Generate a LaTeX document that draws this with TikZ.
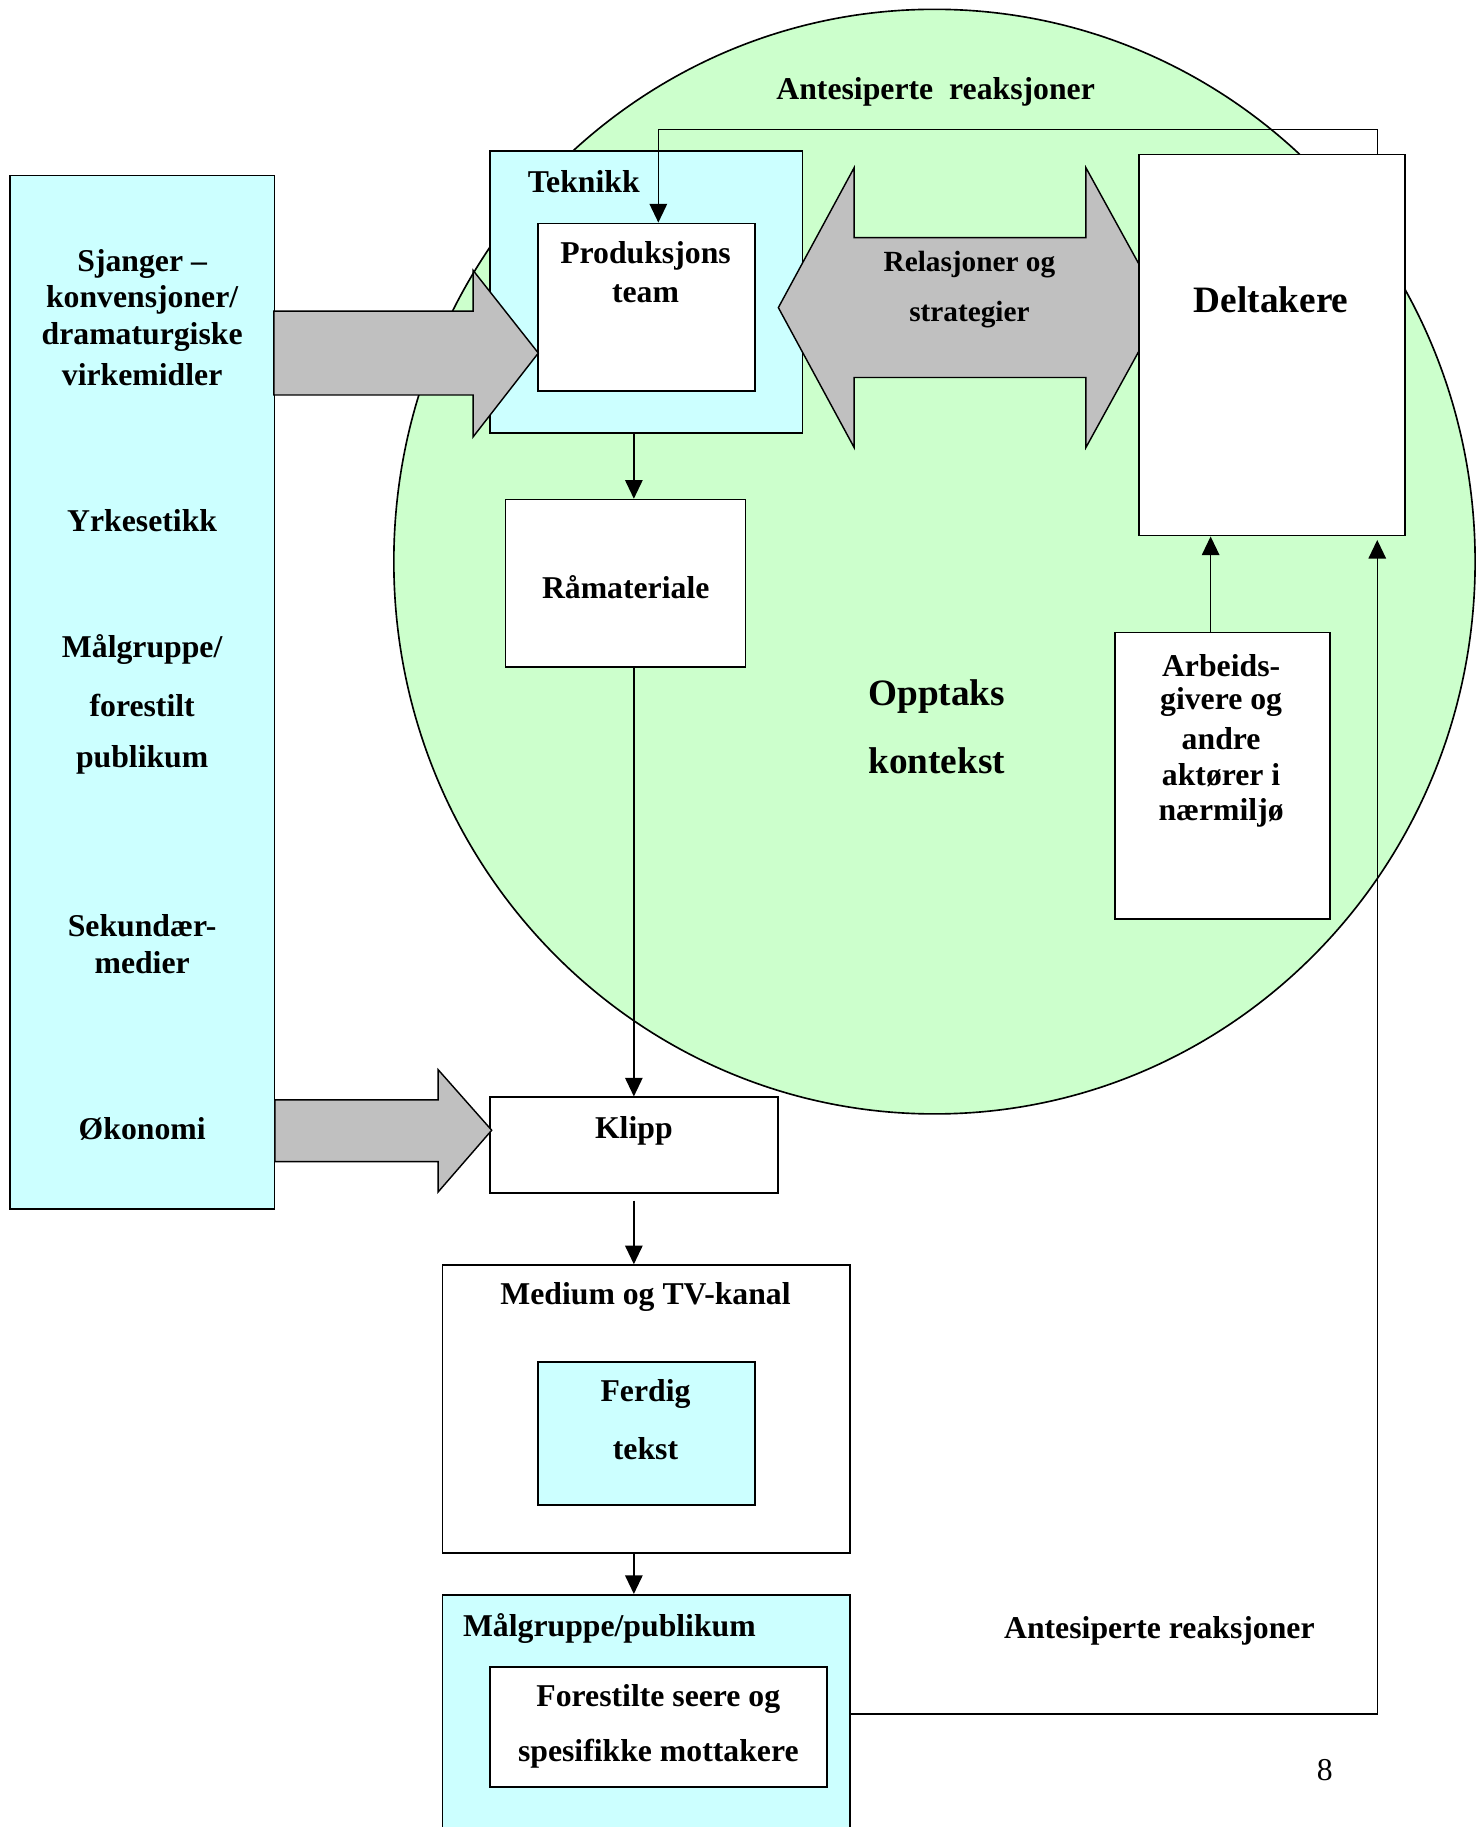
\documentclass[tikz,border=0pt]{standalone}
\usepackage{fontspec}
\setmainfont{Liberation Serif}
\usetikzlibrary{arrows.meta}
\definecolor{cyanbox}{HTML}{CCFFFF}
\definecolor{greenbg}{HTML}{CCFFCC}
\definecolor{grayarrow}{HTML}{C0C0C0}
\tikzset{
  box/.style={draw=black, line width=0.8pt, inner sep=0pt, anchor=north west},
  dim/.style args={#1/#2}{minimum width=#1*0.02cm, minimum height=#2*0.02cm},
  txt/.style={inner sep=0pt, yshift=-0.05cm, font=\bfseries\fontsize{15.5}{18}\selectfont},
  smalltxt/.style={inner sep=0pt, yshift=-0.06cm, font=\bfseries\fontsize{14.3}{17}\selectfont},
  bigtxt/.style={inner sep=0pt, yshift=-0.03cm, font=\bfseries\fontsize{18.2}{21}\selectfont},
  conn/.style={draw=black, line width=0.7pt},
  arr/.style={conn, -{Triangle[length=0.32cm, width=0.3cm]}},
  blockarrow/.style={draw=black, line width=0.7pt, fill=grayarrow, line join=miter},
}
\begin{document}
\begin{tikzpicture}[x=0.02cm, y=-0.02cm]
\clip (0,0) rectangle (1272,1568);
\fill[white] (0,0) rectangle (1272,1568);

% background context circle
\draw[line width=0.8pt, fill=greenbg] (802,482) ellipse [x radius=464, y radius=474];

% left column
\node[box, fill=cyanbox, dim=227/887] (left) at (8,150) {};
\node[txt] (l1) at (122,224) {Sjanger –};
\node[txt] (l2) at (122,255) {konvensjoner/};
\node[txt] (l3) at (122,287) {dramaturgiske};
\node[txt] (l4) at (122,319) {virkemidler};
\node[txt] (l5) at (122,444) {Yrkesetikk};
\node[txt] (l6) at (122,555) {Målgruppe/};
\node[txt] (l7) at (122,603) {forestilt};
\node[txt] (l8) at (122,650) {publikum};
\node[txt] (l9) at (122,792) {Sekundær-};
\node[txt] (l10) at (122,824) {medier};
\node[txt] (l11) at (122,966) {Økonomi};

% Teknikk box
\node[box, fill=cyanbox, dim=268/242] (tek) at (420,129) {};
\node[txt] (tekl) at (501,153) {Teknikk};
\node[box, fill=white, dim=186/144] (prod) at (461,191) {};
\node[txt] (prodl1) at (554,217) {Produksjons};
\node[txt] (prodl2) at (554,250) {team};

% upper block arrow
\draw[blockarrow] (235,267) -- (406,267) -- (406,232) -- (462,303) -- (406,375) -- (406,339) -- (235,339) -- cycle;

% double block arrow
\draw[blockarrow] (668,264) -- (733,144) -- (733,204) -- (932,204) -- (932,144) -- (998,264)
  -- (932,384) -- (932,324) -- (733,324) -- (733,384) -- cycle;
\node[smalltxt] (rel1) at (832,224) {Relasjoner og};
\node[smalltxt] (rel2) at (832,267) {strategier};

% Deltakere
\node[box, fill=white, dim=228/327] (delt) at (977,132) {};
\node[bigtxt] (deltl) at (1091,256) {Deltakere};

% top label
\node[txt] (ant1) at (803,76) {Antesiperte~ reaksjoner};

% Råmateriale
\node[box, fill=white, dim=206/144] (ramat) at (433,428) {};
\node[txt] (ramatl) at (537,501) {Råmateriale};

% Opptaks kontekst
\node[bigtxt] (opp1) at (804,596) {Opptaks};
\node[bigtxt] (opp2) at (804,651) {kontekst};

% Arbeidsgivere
\node[box, fill=white, dim=185/246] (arb) at (956,542) {};
\node[txt] (arb1) at (1048,569) {Arbeids-};
\node[txt] (arb2) at (1048,600) {givere og};
\node[txt] (arb3) at (1048,631) {andre};
\node[txt] (arb4) at (1048,663) {aktører i};
\node[txt] (arb5) at (1048,695) {nærmiljø};

% Klipp
\node[box, fill=white, dim=247/82] (klipp) at (420,941) {};
\node[txt] (klippl) at (544,968) {Klipp};

% lower block arrow
\draw[blockarrow] (236,944) -- (376,944) -- (376,918) -- (422,970) -- (376,1023) -- (376,997) -- (236,997) -- cycle;

% Medium og TV-kanal
\node[box, fill=white, dim=350/247] (med) at (379,1085) {};
\node[txt] (medl) at (554,1111) {Medium og TV-kanal};
\node[box, fill=cyanbox, dim=186/123] (ferd) at (461,1168) {};
\node[txt] (ferd1) at (554,1194) {Ferdig};
\node[txt] (ferd2) at (554,1241) {tekst};

% Målgruppe/publikum
\node[box, fill=cyanbox, dim=350/260] (mal) at (379,1368) {};
\node[txt] (mall) at (523,1395) {Målgruppe/publikum};
\node[box, fill=white, dim=289/103] (fore) at (420,1430) {};
\node[txt] (fore1) at (565,1456) {Forestilte seere og};
\node[txt] (fore2) at (565,1503) {spesifikke mottakere};

\node[txt] (ant2) at (995,1397) {Antesiperte reaksjoner};
\node[inner sep=0pt, yshift=-0.05cm, font=\fontsize{15.5}{18}\selectfont] (pg) at (1137,1517) {8};

% connectors
\coordinate (cx) at (544,0);
\coordinate (fbR) at (1182,111);
\coordinate (fbL) at (565,111);
\coordinate (ax) at (1039,0);
\coordinate (rx) at (1182,1471);

\draw[arr] (delt.north -| fbR) -- (fbR) -- (fbL) -- (prod.north -| fbL);
\draw[arr] (tek.south -| cx) -- (ramat.north -| cx);
\draw[arr] (ramat.south -| cx) -- (klipp.north -| cx);
\draw[arr] ([yshift=-0.12cm]klipp.south -| cx) -- (med.north -| cx);
\draw[arr] (med.south -| cx) -- (mal.north -| cx);
\draw[arr] (arb.north -| ax) -- (delt.south -| ax);
\draw[arr] (mal.east |- rx) -- (rx) -- ([yshift=-0.06cm]delt.south -| rx);
\end{tikzpicture}
\end{document}
